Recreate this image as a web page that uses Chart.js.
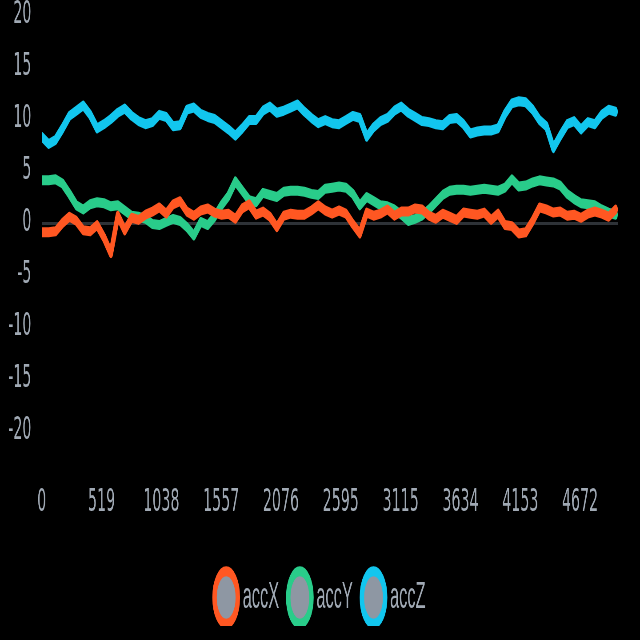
<!DOCTYPE html>
<html>
<head>
<meta charset="utf-8">
<script src="https://cdn.jsdelivr.net/npm/chart.js@4"></script>
<style>
  html, body { margin: 0; padding: 0; background: #000; }
  #chart { width: 640px; height: 640px; }
</style>
</head>
<body>
<!-- drawn wide, then squeezed to 640 like the reference -->
<canvas id="chart" width="1440" height="640" style="width:640px;height:640px"></canvas>
<script>
var seriesNames = ["accX", "accY", "accZ"];
var SAMPLE_STEP = 60;

var accX = [
  -0.9, -0.9, -0.8, 0.0, 0.6, 0.2, -0.7, -0.8, -0.2, -1.4,
  -2.9, 0.7, -0.7, 0.5, 0.3, 0.8, 1.1, 1.5, 0.9, 1.8,
  2.1, 1.1, 0.7, 1.2, 1.4, 1.0, 0.8, 0.9, 0.4, 1.4,
  1.8, 0.8, 1.1, 0.6, -0.4, 0.7, 0.9, 0.8, 0.8, 1.2,
  1.7, 1.2, 0.9, 1.2, 0.9, -0.1, -1.0, 1.0, 0.7, 0.9,
  1.3, 0.7, 1.1, 1.1, 1.4, 1.3, 0.7, 0.4, 0.9, 0.6,
  0.3, 1.0, 0.9, 0.8, 1.0, 0.3, 0.9, -0.2, -0.3, -1.0,
  -0.9, 0.2, 1.5, 1.3, 1.0, 1.1, 0.7, 0.8, 0.5, 0.9,
  1.1, 0.9, 0.6, 1.3
];
var accY = [
  4.1, 4.1, 4.2, 3.8, 2.8, 1.7, 1.3, 1.8, 2.0, 1.9,
  1.6, 1.7, 1.2, 0.7, 0.6, 0.4, -0.1, -0.2, 0.1, 0.4,
  0.2, -0.4, -1.2, 0.1, -0.2, 0.6, 1.7, 2.6, 4.0, 3.1,
  2.2, 2.0, 2.9, 2.7, 2.5, 3.0, 3.1, 3.1, 3.0, 2.8,
  2.7, 3.3, 3.4, 3.5, 3.4, 2.8, 1.7, 2.5, 2.1, 1.7,
  1.6, 1.3, 0.8, 0.2, 0.4, 0.7, 1.3, 2.0, 2.7, 3.1,
  3.2, 3.2, 3.1, 3.2, 3.3, 3.2, 3.1, 3.4, 4.2, 3.5,
  3.6, 3.9, 4.1, 4.0, 3.9, 3.6, 2.8, 2.3, 1.9, 1.8,
  1.7, 1.3, 1.0, 0.8
];
var accZ = [
  8.3, 7.6, 8.0, 9.1, 10.3, 10.8, 11.3, 10.4, 9.1, 9.5,
  10.0, 10.6, 11.0, 10.3, 9.8, 9.5, 9.7, 10.4, 10.2, 9.3,
  9.4, 10.9, 11.1, 10.5, 10.2, 10.0, 9.5, 9.0, 8.4, 9.1,
  9.9, 9.9, 10.8, 11.2, 10.6, 10.8, 11.1, 11.4, 10.7, 10.1,
  9.6, 9.9, 9.6, 9.5, 9.9, 10.3, 10.1, 8.3, 9.2, 9.8,
  10.1, 10.8, 11.2, 10.6, 10.2, 9.8, 9.7, 9.5, 9.4, 10.0,
  10.1, 9.5, 8.6, 8.8, 8.9, 8.9, 9.1, 10.5, 11.5, 11.7,
  11.6, 10.9, 9.9, 9.3, 7.2, 8.4, 9.5, 9.8, 9.0, 9.7,
  9.5, 10.4, 10.9, 10.7
];

var xTicks = [0, 519, 1038, 1557, 2076, 2595, 3115, 3634, 4153, 4672];
var yTicks = [20, 15, 10, 5, 0, -5, -10, -15, -20];

var colors = ["#ff5722", "#29cc8a", "#12c6ee"];
var textColor = "#a0a9b4";

function points(values) {
  return values.map(function (v, i) { return { x: i * SAMPLE_STEP, y: v }; });
}

// legend spans the whole width, not just up to the plot's right edge
var legendSpan = {
  id: "legendSpan",
  afterLayout: function (chart) {
    chart.legend.right += 58;
  },
};

var ctx = document.getElementById("chart").getContext("2d");
var chart = new Chart(ctx, {
  type: "line",
  data: {
    datasets: [
      { label: seriesNames[0], data: points(accX), borderColor: colors[0], backgroundColor: colors[0] },
      { label: seriesNames[1], data: points(accY), borderColor: colors[1], backgroundColor: colors[1] },
      { label: seriesNames[2], data: points(accZ), borderColor: colors[2], backgroundColor: colors[2] },
    ],
  },
  plugins: [legendSpan],
  options: {
    responsive: false,
    devicePixelRatio: 1,
    animation: false,
    events: [],
    layout: { padding: { top: 3, right: 50, bottom: 14, left: 0 } },
    elements: {
      point: { radius: 0 },
      line: { borderWidth: 10, tension: 0, borderJoinStyle: "round", borderCapStyle: "round" },
    },
    scales: {
      x: {
        type: "linear",
        min: 0,
        max: 4999,
        border: { display: false },
        grid: { display: false, drawTicks: false },
        afterBuildTicks: function (scale) {
          scale.ticks = xTicks.map(function (v) { return { value: v }; });
        },
        afterFit: function (scale) { scale.height = 68; },
        ticks: {
          autoSkip: false,
          maxRotation: 0,
          padding: 4,
          color: textColor,
          font: { family: "DejaVu Sans", size: 32, lineHeight: 1 },
          callback: function (v) { return String(v); },
        },
      },
      y: {
        min: -25,
        max: 20,
        border: { display: false },
        grid: {
          drawTicks: false,
          lineWidth: 3,
          color: function (c) { return c.tick && c.tick.value === 0 ? "#2e3237" : "transparent"; },
        },
        afterBuildTicks: function (scale) {
          scale.ticks = yTicks.map(function (v) { return { value: v }; });
        },
        afterFit: function (scale) { scale.width = 94; },
        ticks: {
          padding: 3,
          color: textColor,
          font: { family: "DejaVu Sans", size: 32, lineHeight: 0.75 },
          // two trailing spaces keep the labels clear of the plot
          callback: function (v) { return v + "  "; },
        },
      },
    },
    plugins: {
      tooltip: { enabled: false },
      legend: {
        position: "bottom",
        labels: {
          usePointStyle: true,
          pointStyle: "circle",
          padding: 28,
          color: textColor,
          font: { family: "'Liberation Sans Narrow', 'Liberation Sans', sans-serif", size: 37 },
          generateLabels: function (ch) {
            return ch.data.datasets.map(function (ds, i) {
              return {
                text: ds.label,
                fillStyle: "#8e97a3",
                strokeStyle: ds.borderColor,
                lineWidth: 10,
                pointStyle: "circle",
                fontColor: textColor,
                datasetIndex: i,
              };
            });
          },
        },
      },
    },
  },
});
</script>
</body>
</html>
